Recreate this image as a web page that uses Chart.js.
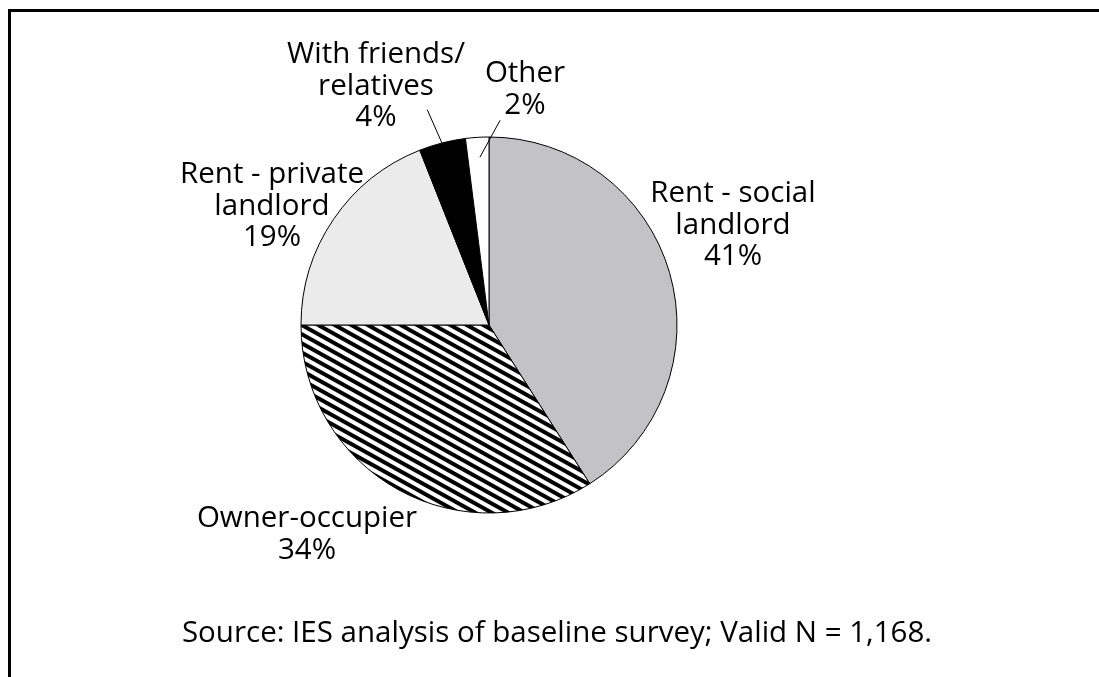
<!DOCTYPE html>
<html>
<head>
<meta charset="utf-8">
<script src="https://cdn.jsdelivr.net/npm/chart.js@4"></script>
<style>
  html, body { margin: 0; padding: 0; background: #fff; overflow: hidden; }
  #frame { position: absolute; left: 8px; top: 9px; width: 1300px; height: 900px; border-left: 3px solid #000; border-top: 3px solid #000; }
  #wrap { position: absolute; left: 0; top: 0; width: 1099px; height: 677px; }
</style>
</head>
<body>
<div id="frame"></div>
<div id="wrap"><canvas id="chart" width="1099" height="677"></canvas></div>
<script>
// tenure at baseline, % of respondents
const categories = ['Rent - social landlord', 'Owner-occupier', 'Rent - private landlord', 'With friends/relatives', 'Other'];
const labelLines = [['Rent - social', 'landlord'], ['Owner-occupier'], ['Rent - private', 'landlord'], ['With friends/', 'relatives'], ['Other']];
const shares = [41, 34, 19, 4, 2];
const sourceNote = 'Source: IES analysis of baseline survey; Valid N = 1,168.';

const FONT = '29.5px "Open Sans", sans-serif';
const LINE_H = 31.5;

// label placement relative to the pie centre (first baseline, centred text)
const labelOffsets = [[244, -123], [-182, 202], [-217, -142], [-113, -262], [36, -243]];
// leader lines for the thin slices: [angle from 12 o'clock, radius] start / end
const leaders = { 3: [[-16, 224], [-14.5, 188]], 4: [[3.1, 205], [-3.1, 168]] };

// diagonal black/white hatch for owner-occupier
function makeHatch() {
  const tile = document.createElement('canvas');
  tile.width = 8; tile.height = 8;
  const t = tile.getContext('2d');
  t.fillStyle = '#fff'; t.fillRect(0, 0, 8, 8);
  t.fillStyle = '#000'; t.fillRect(0, 0, 8, 4);
  const pat = document.getElementById('chart').getContext('2d').createPattern(tile, 'repeat');
  pat.setTransform(new DOMMatrix().rotate(29));
  return pat;
}

const fills = ['#c3c3c5', makeHatch(), '#ebebeb', '#000000', '#ffffff'];

const labelPlugin = {
  id: 'sliceLabels',
  afterDraw(chart) {
    const ctx = chart.ctx;
    const arcs = chart.getDatasetMeta(0).data;
    const cx = arcs[0].x, cy = arcs[0].y;
    ctx.save();
    ctx.fillStyle = '#000';
    ctx.strokeStyle = '#000';
    ctx.lineWidth = 1;
    ctx.font = FONT;
    ctx.textAlign = 'center';
    ctx.textBaseline = 'alphabetic';
    shares.forEach((v, i) => {
      const lines = labelLines[i].concat([v + '%']);
      const [dx, dy] = labelOffsets[i];
      lines.forEach((ln, k) => ctx.fillText(ln, cx + dx, cy + dy + k * LINE_H));
    });
    Object.values(leaders).forEach(([a, b]) => {
      const pt = ([deg, r]) => {
        const rad = deg * Math.PI / 180;
        return [cx + r * Math.sin(rad), cy - r * Math.cos(rad)];
      };
      const p0 = pt(a), p1 = pt(b);
      ctx.beginPath();
      ctx.moveTo(p0[0], p0[1]);
      ctx.lineTo(p1[0], p1[1]);
      ctx.stroke();
    });
    ctx.fillText(sourceNote, 557, 642);
    ctx.restore();
  }
};

new Chart(document.getElementById('chart'), {
  type: 'pie',
  data: {
    labels: categories,
    datasets: [{
      data: shares,
      backgroundColor: fills,
      borderColor: '#000',
      borderWidth: 1,
    }],
  },
  options: {
    responsive: false,
    devicePixelRatio: 1,
    animation: false,
    radius: 188,
    layout: { padding: { left: 289, right: 410, top: 125, bottom: 152 } },
    plugins: { legend: { display: false }, tooltip: { enabled: false } },
  },
  plugins: [labelPlugin],
});
</script>
</body>
</html>
